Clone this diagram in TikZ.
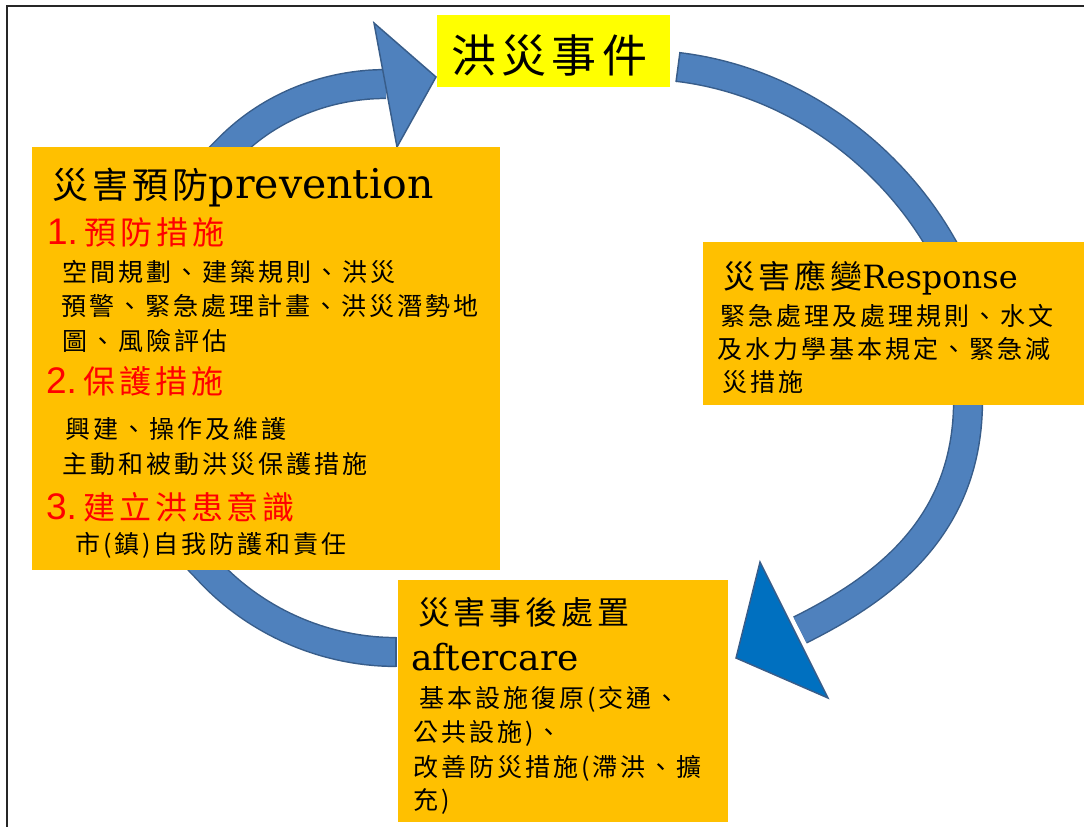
\documentclass[tikz,border=0pt]{standalone}
\usepackage{fontspec}
\newfontfamily\cjksp[LetterSpace=12]{Noto Sans CJK TC}
\newfontfamily\latserif{DejaVu Serif}
\newfontfamily\numsans{Liberation Sans}
\usetikzlibrary{fit,backgrounds}
\definecolor{boxorange}{HTML}{FFC000}
\definecolor{evyellow}{HTML}{FFFF00}
\definecolor{bandfill}{HTML}{4F81BD}
\definecolor{bandedge}{HTML}{385D8A}
\definecolor{headfill}{HTML}{0070C0}
\definecolor{redtxt}{HTML}{FF0000}
\newcommand\setfsz[1]{\fontsize{#1}{#1}\selectfont}
\tikzset{
  obox/.style={fill=boxorange, inner sep=0pt, outer sep=0pt},
  ybox/.style={fill=evyellow, inner sep=0pt, outer sep=0pt},
  txt/.style={anchor=base west, inner sep=0pt, outer sep=0pt},
  body/.style={txt, font=\cjksp\setfsz{18.75pt}},
  redline/.style={txt, text=redtxt},
  band/.style={draw=bandedge, line width=1.1pt, double=bandfill, double distance=20.5pt},
  bandcap/.style={draw=bandedge, line width=1.1pt},
  headA/.style={fill=bandfill, draw=bandedge, line width=1.1pt, line join=miter},
  headC/.style={fill=headfill, draw=bandedge, line width=1.1pt, line join=miter},
}
\begin{document}
\begin{tikzpicture}[x=0.75pt,y=-0.75pt]
\useasboundingbox (0,0) rectangle (1084,827);

% boxes
\node[ybox, fit={(437,15) (670,87)}] (event) {};
\node[obox, fit={(32,147) (500,570)}] (prev) {};
\node[obox, fit={(703,242) (1084,405)}] (resp) {};
\node[obox, fit={(398,580) (728,822)}] (after) {};

% event text
\node[txt, font=\cjksp\setfsz{33.75pt}] (evtxt) at (451,72.5) {洪災事件};

% prevention box
\node[txt] (p0) at (52,198.7) {{\cjksp\setfsz{27pt}災害預防}{\latserif\setfsz{30.75pt}prevention}};
\node[redline] (p1) at (47,244) {{\numsans\setfsz{27.75pt}1.}\kern5pt{\cjksp\setfsz{24pt}預防措施}};
\node[body] (p2) at (62,281.5) {空間規劃、建築規則、洪災};
\node[body] (p3) at (61,315.5) {預警、緊急處理計畫、洪災潛勢地};
\node[body] (p4) at (62,350.5) {圖、風險評估};
\node[redline] (p5) at (46,393) {{\numsans\setfsz{27.75pt}2.}\kern5pt{\cjksp\setfsz{24pt}保護措施}};
\node[body] (p6) at (65,438.5) {興建、操作及維護};
\node[body] (p7) at (62,473.5) {主動和被動洪災保護措施};
\node[redline] (p8) at (46,519) {{\numsans\setfsz{27.75pt}3.}\kern5pt{\cjksp\setfsz{24pt}建立洪患意識}};
\node[body] (p9) at (75,553.5) {市(鎮)自我防護和責任};

% response box
\node[txt] (r0) at (723,288) {{\cjksp\setfsz{24pt}災害應變}{\latserif\setfsz{24pt}Response}};
\node[body] (r1) at (720,325.5) {緊急處理及處理規則、水文};
\node[body] (r2) at (717,358.5) {及水力學基本規定、緊急減};
\node[body] (r3) at (722,391.5) {災措施};

% aftercare box
\node[txt, font=\cjksp\setfsz{24pt}] (a0) at (418,624) {災害事後處置};
\node[txt, font=\latserif\setfsz{27pt}] (a1) at (411,670) {aftercare};
\node[body] (a2) at (419,707.5) {基本設施復原(交通、};
\node[body] (a3) at (413,741.5) {公共設施)、};
\node[body] (a4) at (413,776.5) {改善防災措施(滯洪、擴};
\node[body] (a5) at (413,809.5) {充)};

% connector coordinates
\coordinate (aS0) at (209,168);  \coordinate (aS) at (230,147);  \coordinate (aE) at (386,84);
\coordinate (hA1) at (374,23);   \coordinate (hAt) at (436,77);  \coordinate (hA2) at (397,147);
\coordinate (bS) at (678,67);    \coordinate (bE) at (940,242);  \coordinate (bE0) at (955,268);
\coordinate (bC1) at (680,52);   \coordinate (bC2) at (676,82);
\coordinate (cS0) at (970,380);  \coordinate (cS) at (968,405);  \coordinate (cE) at (800,630);
\coordinate (hC1) at (760,562);  \coordinate (hCt) at (736,658); \coordinate (hC2) at (828,698);
\coordinate (dS0) at (186,547);  \coordinate (dS) at (208,570);  \coordinate (dE) at (396,652);
\coordinate (dC1) at (396,637);  \coordinate (dC2) at (396,667);

\begin{scope}[on background layer]
  \fill[white] (0,0) rectangle (1084,827);
  % prevention -> event
  \draw[band] (aS0) -- (aS) .. controls (271,106) and (328,84) .. (aE);
  \draw[headA] (hA1) -- (hAt) -- (hA2) -- cycle;
  % event -> response
  \draw[band] (bS) .. controls (787,80) and (885,148) .. (bE) -- (bE0);
  \draw[bandcap] (bC1) -- (bC2);
  % response -> aftercare
  \draw[band] (cS0) -- (cS) .. controls (966,530) and (880,590) .. (cE);
  \draw[headC] (hC1) -- (hCt) -- (hC2) -- cycle;
  % aftercare -> prevention
  \draw[band] (dS0) -- (dS) .. controls (256,622) and (325,652) .. (dE);
  \draw[bandcap] (dC1) -- (dC2);
  % frame
  \draw[line width=1.8pt, draw=black!85] (7,827) -- (7,6) -- (1084,6);
\end{scope}
\end{tikzpicture}
\end{document}
